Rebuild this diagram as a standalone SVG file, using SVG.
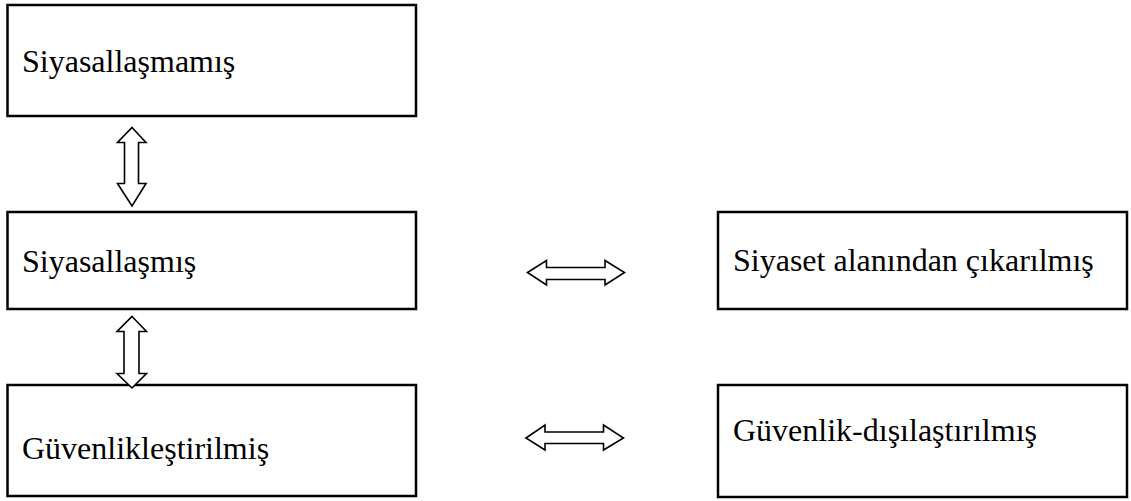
<svg xmlns="http://www.w3.org/2000/svg" width="1131" height="501" viewBox="0 0 1131 501">
<style>
.box{fill:#fff;stroke:#000;stroke-width:2.5}
.lbl{font-family:"Liberation Serif","Times New Roman",serif;font-size:32px;fill:#000}
.arr{fill:#fff;stroke:#000;stroke-width:1.6;stroke-linejoin:miter}
</style>
<rect width="1131" height="501" fill="#fff"/>
<g id="n1"><rect class="box" x="7.5" y="5" width="408.5" height="111"/><text class="lbl" x="22" y="72">Siyasallaşmamış</text></g>
<g id="n2"><rect class="box" x="7.5" y="212" width="408.5" height="97"/><text class="lbl" x="22" y="272">Siyasallaşmış</text></g>
<g id="n3"><rect class="box" x="7.5" y="385" width="408.5" height="111"/><text class="lbl" x="22" y="459">Güvenlikleştirilmiş</text></g>
<g id="n4"><rect class="box" x="718" y="212" width="409" height="97"/><text class="lbl" x="733" y="271">Siyaset alanından çıkarılmış</text></g>
<g id="n5"><rect class="box" x="718" y="385" width="409" height="112"/><text class="lbl" x="733" y="441">Güvenlik-dışılaştırılmış</text></g>
<g id="connectors">
<path class="arr" d="M132,127.5 L146,142.5 L138.5,142.5 L138.5,183.5 L146,183.5 L132,206 L117.5,183.5 L124.5,183.5 L124.5,142.5 L117.5,142.5 Z"/>
<path class="arr" d="M132,316.5 L146.5,331.5 L139,331.5 L139,373.5 L146.5,373.5 L132,388 L117,373.5 L124,373.5 L124,331.5 L117,331.5 Z"/>
<path class="arr" d="M527.5,272.5 L546.5,260.5 L546.5,267.5 L605,267.5 L605,260.5 L624.5,272.5 L605,285 L605,279.5 L546.5,279.5 L546.5,285 Z"/>
<path class="arr" d="M526,438 L545,425 L545,432 L603.5,432 L603.5,425 L623.5,438 L603.5,450 L603.5,443.5 L545,443.5 L545,450 Z"/>
</g>
</svg>
